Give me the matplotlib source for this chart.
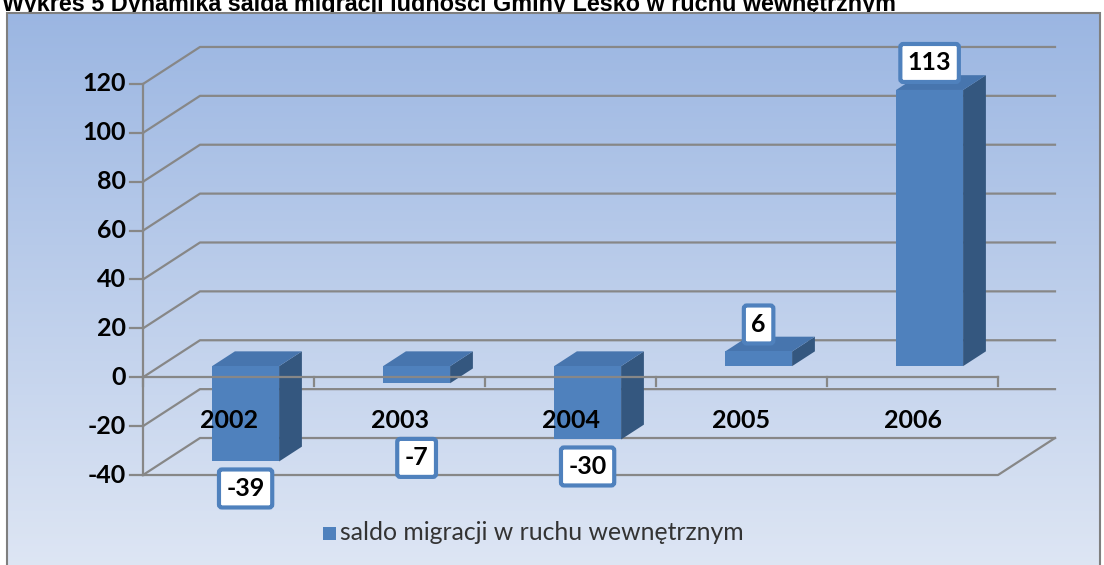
import numpy as np
import matplotlib.pyplot as plt
from matplotlib.patches import Polygon, Rectangle

# data
years = ['2002', '2003', '2004', '2005', '2006']
saldo = [-39, -7, -30, 6, 113]
y_ticks = [-40, -20, 0, 20, 40, 60, 80, 100, 120]
title = 'Wykres 5 Dynamika salda migracji ludności Gminy Lesko w ruchu wewnętrznym'
legend_label = 'saldo migracji w ruchu wewnętrznym'

W, H = 1104, 565
fig = plt.figure(figsize=(W / 100, H / 100), dpi=100)
ax = fig.add_axes([0, 0, 1, 1])
ax.set_axis_off()

# front plane: category units on x, values on y (mapped to pixels)
X0, XS = 143, 171
Y0, YS = 377.25, 2.444
def cx(px): return (px - X0) / XS
def vy(py): return (Y0 - py) / YS

xmin, xmax = cx(0), cx(W)
ymin, ymax = vy(H), vy(0)

# pseudo 3d depth of the wall and of the bars
DX, DY = 57 / XS, 37 / YS
BW = 67 / XS
b0, b1 = 0.3, 0.7

grid_c = '#878787'
front_c, side_c, top_c = '#4F81BD', '#34577F', '#4775AE'
font = 'Lato'
fs = 18

# title, partly hidden behind the chart frame
ax.text(cx(2), vy(11), title, ha='left', va='baseline', fontsize=16.8,
        fontweight='bold', family='Liberation Sans', color='black', zorder=0.5)

# background gradient of the chart area
grad = np.linspace(0, 1, 256)[:, None]
top_rgb = np.array([155, 182, 226]) / 255
bot_rgb = np.array([222, 230, 244]) / 255
img = top_rgb[None, None, :] * (1 - grad[..., None]) + bot_rgb[None, None, :] * grad[..., None]
fx0, fx1, fy0, fy1 = cx(7), cx(1100), vy(13), vy(H + 5)
ax.imshow(img, extent=[fx0, fx1, fy1, fy0], aspect='auto', zorder=1)
ax.add_patch(Rectangle((fx0, fy1), fx1 - fx0, fy0 - fy1, fill=False,
                       ec='#7f7f7f', lw=1.5, zorder=1.5))

n = len(years)
# wall gridlines
for t in y_ticks:
    ax.plot([0, DX, n + DX], [t, t + DY, t + DY], color=grid_c, lw=1.6, zorder=2)
# floor
ax.plot([0, n, n + DX], [-40, -40, -40 + DY], color=grid_c, lw=1.6, zorder=2)
# value axis
ax.plot([0, 0], [y_ticks[0], y_ticks[-1]], color=grid_c, lw=1.6, zorder=2)
for t in y_ticks:
    ax.plot([-13 / XS, 0], [t, t], color=grid_c, lw=1.6, zorder=2)
    ax.text(cx(126), t, str(t), ha='right', va='center', fontsize=fs,
            fontweight='bold', family=font, color='black', zorder=5)

# bars
s_x, s_y = b0 * DX, b0 * DY
d_x, d_y = (b1 - b0) * DX, (b1 - b0) * DY
for i, v in enumerate(saldo):
    xl = i + 0.5 - BW / 2 + s_x
    lo, hi = min(v, 0) + s_y, max(v, 0) + s_y
    ax.add_patch(Polygon([(xl + BW, lo), (xl + BW + d_x, lo + d_y),
                          (xl + BW + d_x, hi + d_y), (xl + BW, hi)],
                         fc=side_c, ec='none', zorder=3))
    ax.add_patch(Polygon([(xl, hi), (xl + d_x, hi + d_y),
                          (xl + BW + d_x, hi + d_y), (xl + BW, hi)],
                         fc=top_c, ec='none', zorder=3))
    ax.add_patch(Rectangle((xl, lo), BW, hi - lo, fc=front_c, ec='none', zorder=3))

    # data label
    if v >= 0:
        ly = hi + 27 / YS
    else:
        ly = min(lo - 27 / YS, -33)
    ax.text(xl + BW / 2, ly, str(v), ha='center', va='center', fontsize=fs,
            fontweight='bold', family=font, color='black', zorder=6,
            bbox=dict(boxstyle='round,pad=0.3,rounding_size=0.12', fc='white',
                      ec=front_c, lw=3))

# category axis at zero, drawn over the bars
ax.plot([0, n], [0, 0], color=grid_c, lw=1.6, zorder=4)
for i in range(n + 1):
    ax.plot([i, i], [0, -9 / YS], color=grid_c, lw=1.6, zorder=4)
for i, yr in enumerate(years):
    ax.text(i + 0.5, vy(420), yr, ha='center', va='center', fontsize=fs,
            fontweight='bold', family=font, color='black', zorder=5)

# legend
ax.add_patch(Rectangle((cx(323), vy(540)), 13 / XS, 13 / YS, fc=front_c, ec='none', zorder=5))
ax.text(cx(340), vy(533), legend_label, ha='left', va='center', fontsize=17.8,
        family=font, color='#333333', zorder=5)

ax.set_xlim(xmin, xmax)
ax.set_ylim(ymin, ymax)

fig.savefig('out.png', dpi=100)
